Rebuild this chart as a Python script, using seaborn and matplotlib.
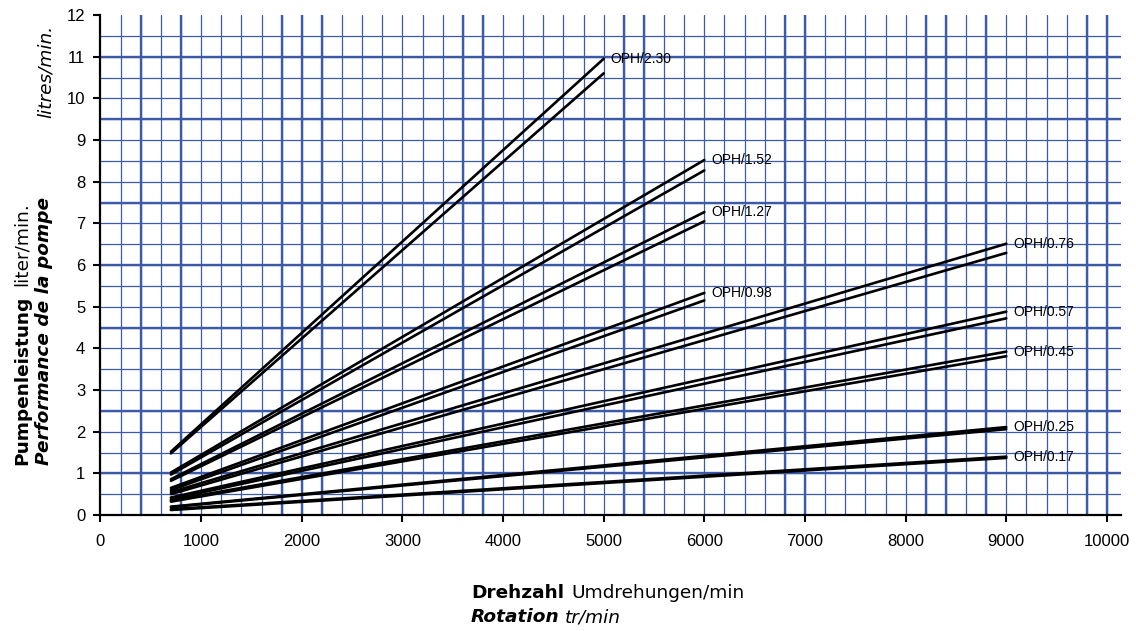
import numpy as np
import pandas as pd
import matplotlib
matplotlib.use("Agg")
import matplotlib.pyplot as plt
import seaborn as sns

sns.set_theme(style="white")
plt.rcParams['font.family'] = ['Liberation Sans', 'DejaVu Sans']

# pump models, two curves each (upper / lower)
models = ["OPH/2.30", "OPH/1.52", "OPH/1.27", "OPH/0.98", "OPH/0.76",
          "OPH/0.57", "OPH/0.45", "OPH/0.25", "OPH/0.17"]
rpm_start = [700, 700, 700, 700, 700, 700, 700, 700, 700]
rpm_end = [5000, 6000, 6000, 6000, 9000, 9000, 9000, 9000, 9000]
upper_start = [1.52, 1.02, 0.86, 0.65, 0.55, 0.42, 0.35, 0.20, 0.14]
upper_end = [10.95, 8.52, 7.27, 5.33, 6.51, 4.88, 3.92, 2.11, 1.40]
lower_start = [1.48, 0.97, 0.82, 0.60, 0.50, 0.38, 0.32, 0.19, 0.12]
lower_end = [10.60, 8.27, 7.05, 5.15, 6.29, 4.72, 3.81, 2.06, 1.37]

rows = []
for i, m in enumerate(models):
    rows.append((m + " hi", rpm_start[i], upper_start[i]))
    rows.append((m + " hi", rpm_end[i], upper_end[i]))
    rows.append((m + " lo", rpm_start[i], lower_start[i]))
    rows.append((m + " lo", rpm_end[i], lower_end[i]))
df = pd.DataFrame(rows, columns=["line", "rpm", "flow"])

grid_blue = "#3b5ba8"

fig = plt.figure(figsize=(11.36, 6.31), dpi=100)
ax = fig.add_axes([100.5 / 1136, 1 - 515 / 631, (1121 - 100.5) / 1136, 500 / 631])

# graph paper grid
for v in np.arange(200, 10001, 200):
    ax.axvline(v, color=grid_blue, lw=0.9, zorder=1)
for v in np.arange(0.5, 12, 0.5):
    ax.axhline(v, color=grid_blue, lw=0.9, zorder=1)
for v in [400, 800, 1800, 2000, 2200, 3600, 3800, 5200, 5400,
          6800, 7000, 8200, 8400, 8800, 9800, 10000]:
    ax.axvline(v, color=grid_blue, lw=1.7, zorder=1)
for v in [1, 2.5, 4.5, 6, 7.5, 9.5, 11]:
    ax.axhline(v, color=grid_blue, lw=1.7, zorder=1)

sns.lineplot(data=df, x="rpm", y="flow", units="line", estimator=None,
             sort=False, color="black", linewidth=1.9, legend=False, ax=ax, zorder=3)

for i, m in enumerate(models):
    ax.annotate(m, xy=(rpm_end[i], upper_end[i]), xytext=(5, 0),
                textcoords="offset points", va="center", ha="left",
                fontsize=10, color="black", zorder=4)

ax.set_xlim(0, 10140)
ax.set_ylim(0, 12)
ax.set_xticks(np.arange(0, 10001, 1000))
ax.set_yticks(np.arange(0, 13, 1))
ax.set_xlabel("")
ax.set_ylabel("")
for s in ["top", "right"]:
    ax.spines[s].set_visible(False)
for s in ["left", "bottom"]:
    ax.spines[s].set_color("black")
    ax.spines[s].set_linewidth(1.6)
    ax.spines[s].set_zorder(5)
ax.tick_params(bottom=True, left=True, direction="out", length=5, width=1.5,
               color="black", labelsize=12, labelcolor="black")
ax.tick_params(axis="x", pad=9)
ax.tick_params(axis="y", pad=6)

# axis titles (bold/italic mixed)
tf = dict(family="DejaVu Sans", size=13.3, color="black")
t1 = fig.text(13 / 1136, 1 - 465 / 631, "Pumpenleistung", rotation=90,
              ha="left", va="bottom", weight="bold", **tf)
ax.annotate("liter/min.", xy=(0, 1), xycoords=t1, xytext=(0, 7),
            textcoords="offset points", rotation=90, ha="left", va="bottom", **tf)
fig.text(35 / 1136, 1 - 465 / 631, "Performance de la pompe", rotation=90,
         ha="left", va="bottom", weight="bold", style="italic", **tf)
fig.text(37 / 1136, 1 - 118 / 631, "litres/min.", rotation=90,
         ha="left", va="bottom", style="italic", **tf)

t5 = fig.text(471 / 1136, 1 - 598 / 631, "Drehzahl", ha="left", va="baseline",
              weight="bold", **tf)
ax.annotate("Umdrehungen/min", xy=(1, 0), xycoords=t5, xytext=(5, 0),
            textcoords="offset points", ha="left", va="bottom", **tf)
t7 = fig.text(471 / 1136, 1 - 622 / 631, "Rotation", ha="left", va="baseline",
              weight="bold", style="italic", **tf)
ax.annotate("tr/min", xy=(1, 0), xycoords=t7, xytext=(4, 0),
            textcoords="offset points", ha="left", va="bottom", style="italic", **tf)

fig.savefig("out.png", dpi=100, facecolor="white")
